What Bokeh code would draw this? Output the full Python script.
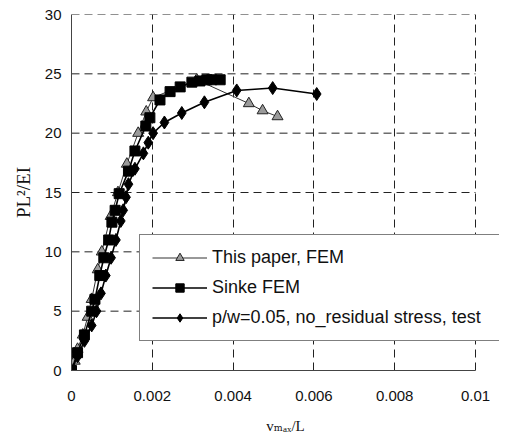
from bokeh.plotting import figure
from bokeh.models import Range1d, FixedTicker, NumeralTickFormatter, Legend
from bokeh.embed import file_html
from bokeh.resources import INLINE

# ---- data ----
tri_v = [0, 0.00008, 0.00015, 0.00028, 0.0004, 0.0005, 0.00065, 0.00075, 0.00097,
         0.00115, 0.00137, 0.00165, 0.00185, 0.00202, 0.0031, 0.00439, 0.00473, 0.0051]
tri_y = [0, 0.8, 1.8, 3.0, 4.5, 6.0, 8.5, 10.0, 13.0,
         15.0, 17.4, 20.0, 21.8, 23.0, 24.5, 22.5, 21.9, 21.4]

sq_v = [0, 0.00015, 0.00032, 0.0005, 0.00058, 0.0007, 0.0008, 0.00092, 0.001, 0.00108,
        0.00118, 0.00141, 0.00157, 0.00184, 0.00194, 0.00219, 0.00244, 0.00269, 0.00298,
        0.00318, 0.00335, 0.00347, 0.00368]
sq_y = [0, 1.5, 3.0, 5.0, 6.0, 8.0, 9.5, 11.0, 12.5, 13.5,
        14.9, 16.8, 18.5, 20.6, 21.3, 22.8, 23.5, 23.9, 24.3,
        24.4, 24.5, 24.5, 24.5]

dia_v = [0, 0.00015, 0.00032, 0.0005, 0.00062, 0.00073, 0.00085, 0.00098, 0.0011, 0.00122,
         0.00128, 0.00135, 0.00141, 0.00157, 0.00178, 0.0019, 0.00202, 0.0023, 0.00273,
         0.00329, 0.00409, 0.00498, 0.00607]
dia_y = [0, 1.2, 2.5, 3.8, 5.0, 6.5, 8.0, 9.5, 11.0, 12.6,
         13.5, 14.6, 15.7, 17.0, 18.3, 19.2, 20.0, 20.9, 21.7,
         22.6, 23.6, 23.8, 23.3]

x_ticks = [0, 0.002, 0.004, 0.006, 0.008, 0.01]
y_ticks = [0, 5, 10, 15, 20, 25, 30]

labels = ["This paper, FEM", "Sinke FEM", "p/w=0.05, no_residual stress, test"]
x_title = "vₘₐₓ/L"
y_title = "PL²/EI"

X_MAX = x_ticks[-1]
Y_MAX = y_ticks[-1]

# ---- layout (pixels) ----
W, H = 499, 436
BL, BR, BT, BB = 71, 0, 14, 66
PLOT_W = 404                      # width of the 0..X_MAX area
FRAME_W = W - BL - BR             # frame extends a bit further so the legend can overhang
x_end = X_MAX * FRAME_W / PLOT_W

p = figure(width=W, height=H, output_backend="svg", toolbar_location=None,
           x_range=Range1d(0, x_end), y_range=Range1d(0, Y_MAX),
           min_border_left=BL, min_border_right=BR, min_border_top=BT, min_border_bottom=BB)
p.outline_line_color = None
p.background_fill_color = "white"

for ax in (p.xaxis[0], p.yaxis[0]):
    ax.major_tick_line_color = None
    ax.minor_tick_line_color = None
    ax.axis_line_color = "#444444"
    ax.axis_line_width = 1
    ax.major_label_text_font = "Liberation Sans"
    ax.major_label_text_font_size = "15px"
    ax.major_label_text_color = "#111111"
    ax.axis_label_text_font = "Liberation Serif, DejaVu Serif"
    ax.axis_label_text_font_style = "normal"
    ax.axis_label_text_color = "#111111"

p.xaxis.bounds = (0, X_MAX)
p.xaxis.ticker = FixedTicker(ticks=x_ticks)
p.yaxis.ticker = FixedTicker(ticks=y_ticks)
p.xaxis.formatter = NumeralTickFormatter(format="0.[000]")
p.xaxis.major_label_standoff = 14
p.yaxis.major_label_standoff = 4

p.yaxis.axis_label = y_title
p.yaxis.axis_label_text_font_size = "19px"
p.yaxis.axis_label_standoff = 8

p.xaxis.axis_label = x_title
p.xaxis.axis_label_text_font_size = "15px"
p.xaxis.axis_label_standoff = 14

# vertical grid lines
p.xgrid.ticker = FixedTicker(ticks=x_ticks)
p.xgrid.grid_line_color = "#222222"
p.xgrid.grid_line_dash = "8 5"
p.xgrid.grid_line_width = 1
# horizontal grid lines limited to 0..X_MAX
p.ygrid.visible = False
p.segment(x0=[0] * len(y_ticks), x1=[X_MAX] * len(y_ticks), y0=y_ticks, y1=y_ticks,
          line_color="#222222", line_dash="8 5", line_width=1)

# ---- series ----
l1 = p.line(tri_v, tri_y, line_color="#333333", line_width=1)
m1 = p.scatter(tri_v, tri_y, marker="triangle", size=11, fill_color="#9a9a9a",
               line_color="#222222", line_width=1)
l2 = p.line(sq_v, sq_y, line_color="black", line_width=1.6)
m2 = p.scatter(sq_v, sq_y, marker="square", size=10, fill_color="black", line_color="black")
l3 = p.line(dia_v, dia_y, line_color="black", line_width=1.6)
m3 = p.scatter(dia_v, dia_y, marker="diamond", size=13, fill_color="black", line_color="black")

legend = Legend(items=[(labels[0], [l1, m1]), (labels[1], [l2, m2]), (labels[2], [l3, m3])],
                location=(68, 29))
legend.label_text_font = "Liberation Sans"
legend.label_text_font_size = "18px"
legend.label_text_color = "#111111"
legend.border_line_color = "black"
legend.border_line_width = 1
legend.background_fill_color = "white"
legend.background_fill_alpha = 1
legend.padding = 12
legend.spacing = 9
legend.glyph_height = 21
legend.glyph_width = 55
legend.label_standoff = 5
legend.label_height = 21
legend.label_width = 300
p.add_layout(legend, "center")

open("out.html", "w").write(file_html(p, INLINE))
